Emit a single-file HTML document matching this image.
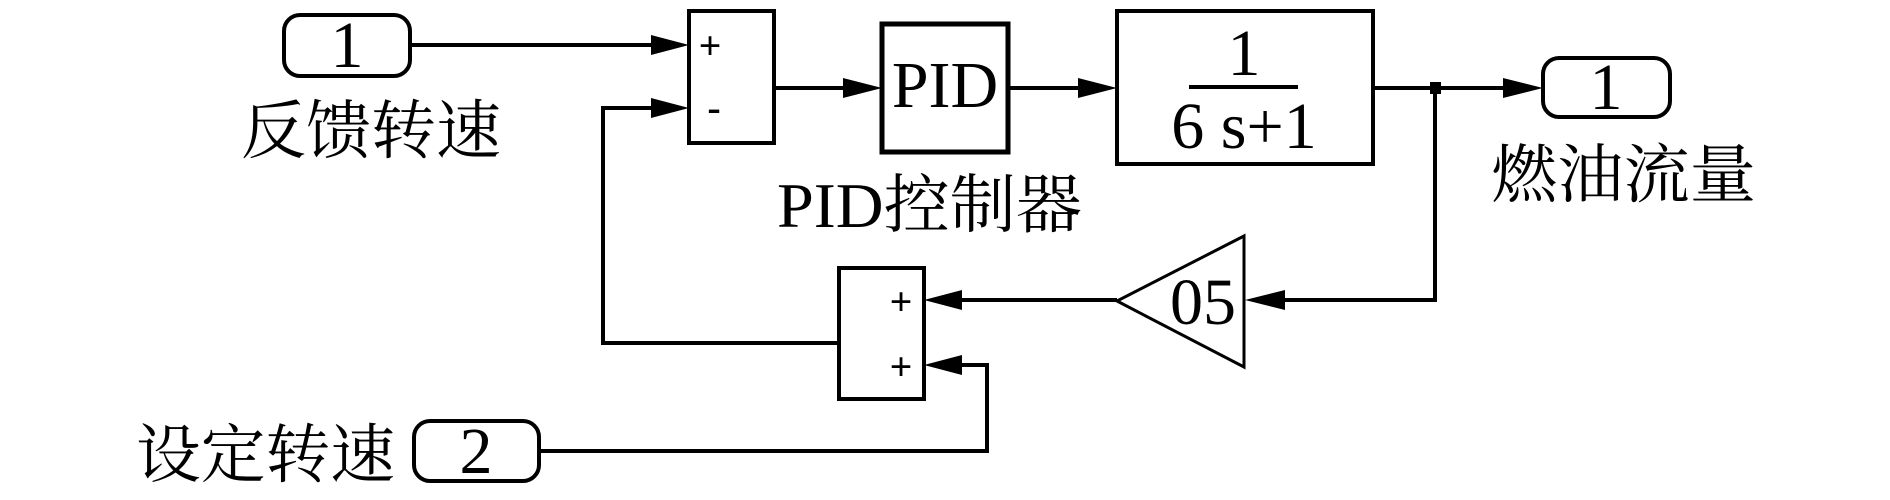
<!DOCTYPE html>
<html><head><meta charset="utf-8"><style>
html,body{margin:0;padding:0;background:#fff;}
svg{display:block;}
text{font-family:"Liberation Serif","Noto Serif CJK SC",serif;fill:#000;}
.cn{font-family:"Liberation Serif","Noto Serif CJK SC","Noto Sans CJK SC",serif;}
</style></head><body>
<svg width="1890" height="500" viewBox="0 0 1890 500" xmlns="http://www.w3.org/2000/svg">
<g fill="none" stroke="#000" stroke-width="4">
  <rect x="284" y="15" width="126" height="61" rx="16"/>
  <rect x="689" y="11" width="85" height="132"/>
  <rect x="882" y="24" width="126" height="128" stroke-width="5"/>
  <rect x="1117" y="11" width="256" height="153"/>
  <rect x="1543" y="58" width="127" height="59" rx="16"/>
  <rect x="839" y="268" width="85" height="131"/>
  <rect x="414" y="421" width="125" height="60" rx="16"/>
  <polygon points="1244,236 1244,367 1117,301" stroke-width="3"/>
  <line x1="410" y1="45" x2="655" y2="45"/>
  <polyline points="655,108 603,108 603,343 839,343"/>
  <line x1="774" y1="88" x2="845" y2="88"/>
  <line x1="1008" y1="88" x2="1080" y2="88"/>
  <line x1="1373" y1="88" x2="1505" y2="88"/>
  <polyline points="1435,88 1435,300 1285,300"/>
  <line x1="1117" y1="300" x2="962" y2="300"/>
  <polyline points="539,451 987,451 987,365 962,365"/>
  <line x1="1189" y1="87" x2="1298" y2="87"/>
</g>
<g fill="#000">
  <polygon points="689,45 651,35 651,55"/>
  <polygon points="689,108 651,98 651,118"/>
  <polygon points="882,88 843,78 843,98"/>
  <polygon points="1117,88 1078,78 1078,98"/>
  <polygon points="1543,88 1503,78 1503,98"/>
  <polygon points="1245,300 1285,290 1285,310"/>
  <polygon points="924,300 962,290 962,310"/>
  <polygon points="924,365 962,355 962,375"/>
  <rect x="1430" y="82" width="11" height="12"/>
</g>
<g font-size="66">
  <text x="347" y="67" text-anchor="middle">1</text>
  <text x="1606" y="109" text-anchor="middle">1</text>
  <text x="476" y="473" text-anchor="middle">2</text>
  <text x="945" y="107" text-anchor="middle">PID</text>
  <text x="1244" y="75" text-anchor="middle">1</text>
  <text x="1244" y="148" text-anchor="middle">6 s+1</text>
  <text x="1203" y="324" text-anchor="middle">05</text>
</g>
<g font-size="40" font-weight="bold">
  <text x="710" y="59" text-anchor="middle" font-family="Liberation Sans,sans-serif">+</text>
  <text x="714" y="121" text-anchor="middle" font-family="Liberation Sans,sans-serif">-</text>
  <text x="901" y="315" text-anchor="middle" font-family="Liberation Sans,sans-serif">+</text>
  <text x="901" y="380" text-anchor="middle" font-family="Liberation Sans,sans-serif">+</text>
</g>
<g font-size="64" class="cn">
  <text class="cn" x="241" y="153" textLength="260" lengthAdjust="spacingAndGlyphs">反馈转速</text>
  <text class="cn" x="777" y="227" textLength="305" lengthAdjust="spacingAndGlyphs">PID控制器</text>
  <text class="cn" x="1491" y="197" textLength="265" lengthAdjust="spacingAndGlyphs">燃油流量</text>
  <text class="cn" x="136" y="477" textLength="259" lengthAdjust="spacingAndGlyphs">设定转速</text>
</g>
</svg>
</body></html>
